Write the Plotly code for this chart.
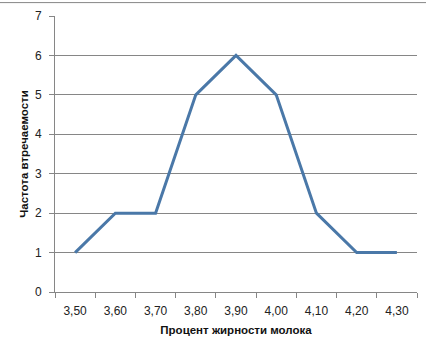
import plotly.graph_objects as go

categories = ["3,50", "3,60", "3,70", "3,80", "3,90", "4,00", "4,10", "4,20", "4,30"]
frequency = [1, 2, 2, 5, 6, 5, 2, 1, 1]
x_title = "Процент жирности молока"
y_title = "Частота втречаемости"

fig = go.Figure()
fig.add_trace(go.Scatter(
    x=categories, y=frequency, mode="lines",
    line=dict(color="#4A78A8", width=3),
    showlegend=False,
))

W, H = 426, 353
ml, mr, mt, mb = 55, 9, 14, 61
pw, ph = W - ml - mr, H - mt - mb

fig.update_layout(
    width=W, height=H,
    margin=dict(l=ml, r=mr, t=mt, b=mb),
    paper_bgcolor="white", plot_bgcolor="white",
    font=dict(family="Liberation Sans, Arial, sans-serif", size=12, color="#222222"),
    xaxis=dict(
        type="category", range=[-0.5, 8.5],
        tickson="boundaries", ticks="outside", ticklen=5, tickcolor="#868686",
        ticklabelstandoff=8,
        showline=True, linecolor="#868686", linewidth=1,
        showgrid=False, zeroline=False,
        title=dict(text=x_title, font=dict(size=11.5, color="#111111", weight="bold"), standoff=8),
    ),
    yaxis=dict(
        range=[0, 7], dtick=1, ticks="outside", ticklen=5, tickcolor="#868686",
        ticklabelstandoff=5,
        showline=True, linecolor="#868686", linewidth=1,
        showgrid=True, gridcolor="#868686", gridwidth=1, zeroline=False,
        title=dict(text=y_title, font=dict(size=11.5, color="#111111", weight="bold"), standoff=3),
    ),
    shapes=[dict(type="line", xref="paper", yref="paper",
                 x0=-ml / pw, x1=1 + mr / pw,
                 y0=1 + (mt - 0.5) / ph, y1=1 + (mt - 0.5) / ph,
                 line=dict(color="#868686", width=1))],
)

fig.write_html("out.html")
